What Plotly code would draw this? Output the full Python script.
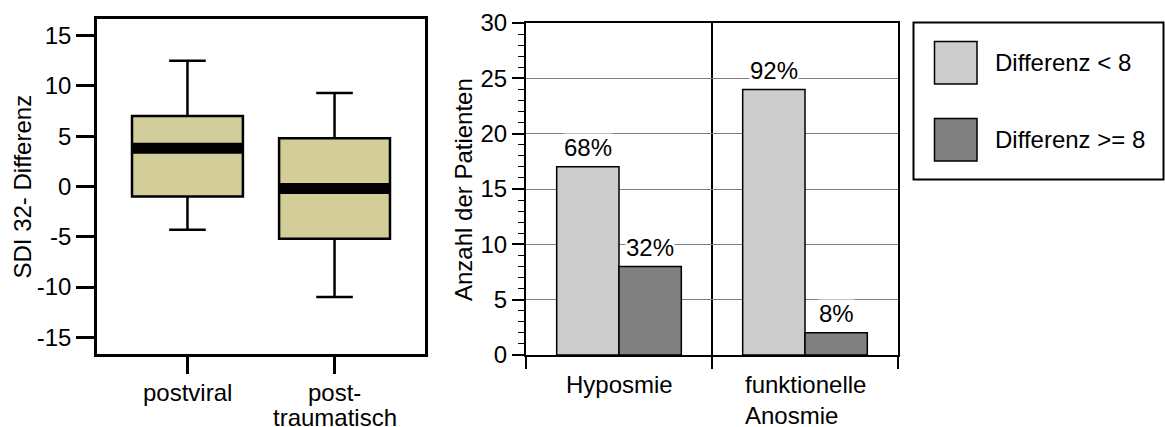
import plotly.graph_objects as go

# ---------------- data ----------------
box_categories = ["postviral", "post-<br>traumatisch"]
box_q1 = [-1.0, -5.2]
box_median = [3.8, -0.2]
box_q3 = [7.0, 4.8]
box_lower = [-4.3, -11.0]
box_upper = [12.5, 9.3]

bar_categories = ["Hyposmie", "funktionelle<br>Anosmie"]
series_names = ["Differenz < 8", "Differenz >= 8"]
series_values = [[17, 24], [8, 2]]
series_labels = [["68%", "92%"], ["32%", "8%"]]
series_colors = ["#cccccc", "#808080"]

left_yticks = [-15, -10, -5, 0, 5, 10, 15]
left_yticklabels = ["-15", "-10", "-5", "0", "5", "10", "15"]
right_yticks = [0, 5, 10, 15, 20, 25, 30]

# ---------------- layout helpers ----------------
W, H = 1165, 427
FONT = "Liberation Sans, Arial, sans-serif"
FS = 24


def px(x):
    return x / W


def py(y):
    return 1 - y / H


box_width = 0.754
box_fill = "#d3cd9a"
bargap = 0.33
txt = dict(family=FONT, size=FS, color="black")

fig = go.Figure()

# ---- box plot (left) ----
for i in range(len(box_categories)):
    fig.add_trace(go.Box(
        x=[i], q1=[box_q1[i]], median=[box_median[i]], q3=[box_q3[i]],
        lowerfence=[box_lower[i]], upperfence=[box_upper[i]],
        width=box_width, whiskerwidth=0.33, fillcolor=box_fill,
        line=dict(color="black", width=2.5), boxpoints=False,
        xaxis="x", yaxis="y", showlegend=False, hoverinfo="skip"))
    fig.add_trace(go.Scatter(
        x=[i - box_width / 2, i + box_width / 2],
        y=[box_median[i], box_median[i]], mode="lines",
        line=dict(color="black", width=11), xaxis="x", yaxis="y",
        showlegend=False, hoverinfo="skip"))

# ---- bar chart (right) ----
for s in range(len(series_names)):
    fig.add_trace(go.Bar(
        x=bar_categories, y=series_values[s], name=series_names[s],
        marker=dict(color=series_colors[s], line=dict(color="black", width=1.5)),
        xaxis="x2", yaxis="y2", showlegend=False, hoverinfo="skip"))

annotations = []
offset = (1 - bargap) / 4
for s in range(len(series_names)):
    for c in range(len(bar_categories)):
        annotations.append(dict(
            x=c + (-offset if s == 0 else offset), y=series_values[s][c],
            xref="x2", yref="y2", text=series_labels[s][c], showarrow=False,
            xanchor="center", yanchor="middle", yshift=19, bgcolor="white",
            borderpad=0, font=txt))

# left x tick labels, one annotation per line (tighter line spacing)
for i, cat in enumerate(box_categories):
    for k, line in enumerate(cat.split("<br>")):
        annotations.append(dict(
            x=i, y=py(392 + 25 * k), xref="x", yref="paper", text=line,
            showarrow=False, xanchor="center", yanchor="middle", font=txt))

# right x tick labels (left aligned lines)
for c, lab in enumerate(bar_categories):
    annotations.append(dict(
        x=c, y=py(369), xref="x2", yref="paper", text=lab, showarrow=False,
        xanchor="center", yanchor="top", align="left", font=txt))

# axis titles
annotations.append(dict(x=px(22), y=py(186.5), xref="paper", yref="paper",
                        text="SDI 32- Differenz", textangle=-90, showarrow=False,
                        xanchor="center", yanchor="middle", font=txt))
annotations.append(dict(x=px(463), y=py(190), xref="paper", yref="paper",
                        text="Anzahl der Patienten", textangle=-90, showarrow=False,
                        xanchor="center", yanchor="middle", font=txt))

# ---- custom legend ----
shapes = [dict(type="rect", xref="paper", yref="paper",
               x0=px(913.5), x1=px(1163.5), y0=py(179.5), y1=py(22.5),
               line=dict(color="black", width=2), fillcolor="white", layer="below")]
legend_rows = [(41.5, 84), (118.5, 161)]
for s, (t, b) in enumerate(legend_rows):
    shapes.append(dict(type="rect", xref="paper", yref="paper",
                       x0=px(934.5), x1=px(977), y0=py(b), y1=py(t),
                       line=dict(color="black", width=1.5), fillcolor=series_colors[s]))
    annotations.append(dict(x=px(993), y=py((t + b) / 2), xref="paper", yref="paper",
                            text=series_names[s], showarrow=False, xanchor="left",
                            yanchor="middle", font=txt))

fig.update_layout(
    template="none",
    width=W, height=H, margin=dict(l=0, r=0, t=0, b=0, autoexpand=False),
    paper_bgcolor="white", plot_bgcolor="white",
    barmode="group", bargap=bargap, bargroupgap=0,
    font=txt,
    xaxis=dict(domain=[px(97), px(425)], range=[-0.615, 1.615], automargin=False,
               tickmode="array", tickvals=list(range(len(box_categories))),
               showticklabels=False, ticks="outside", ticklen=17, tickwidth=2.5,
               tickcolor="black", showline=True, mirror=True, linecolor="black",
               linewidth=2.5, showgrid=False, zeroline=False, anchor="y"),
    yaxis=dict(domain=[py(354), py(19)], range=[-16.66, 16.66], automargin=False,
               tickmode="array", tickvals=left_yticks, ticktext=left_yticklabels,
               ticks="outside", ticklen=18,
               tickwidth=2.5, tickcolor="black", showline=True, mirror=True,
               linecolor="black", linewidth=2.5, showgrid=False, zeroline=False,
               tickfont=txt, anchor="x"),
    xaxis2=dict(domain=[px(526), px(898)], type="category", range=[-0.5, 1.5],
                automargin=False,
                tickson="boundaries", ticks="outside", ticklen=12, tickwidth=1.5,
                tickcolor="black", showticklabels=False, showline=True, mirror=True,
                linecolor="black", linewidth=2, showgrid=True, gridcolor="black",
                gridwidth=1.5, anchor="y2"),
    yaxis2=dict(domain=[py(355), py(23)], range=[0, 30], tickmode="array",
                automargin=False,
                tickvals=right_yticks, ticks="outside", ticklen=12, tickwidth=1.5,
                tickcolor="black", showline=True, mirror=True, linecolor="black",
                linewidth=2, showgrid=True, gridcolor="#808080", gridwidth=1,
                zeroline=False, tickfont=txt, anchor="x2",
                minor=dict(dtick=1, ticks="outside", ticklen=6, tickwidth=1,
                           tickcolor="black", showgrid=False)),
    annotations=annotations, shapes=shapes,
)

fig.write_html("out.html", config={"displayModeBar": False},
               post_script="document.body.style.margin='0';document.body.style.padding='0';")
